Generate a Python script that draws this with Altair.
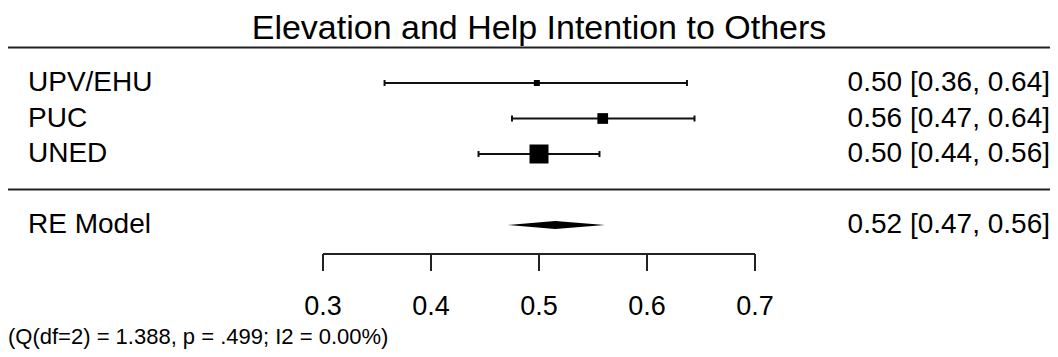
import altair as alt
import pandas as pd

# ---- data ----
studies = ["UPV/EHU", "PUC", "UNED"]
estimates = [0.498, 0.559, 0.500]
ci_low = [0.357, 0.475, 0.444]
ci_high = [0.637, 0.644, 0.556]
weights = [11.1, 30.4, 58.5]
est_labels = ["0.50 [0.36, 0.64]", "0.56 [0.47, 0.64]", "0.50 [0.44, 0.56]"]

re_name = "RE Model"
re_est, re_low, re_high = 0.515, 0.471, 0.561
re_label_text = "0.52 [0.47, 0.56]"

tick_values = [0.3, 0.4, 0.5, 0.6, 0.7]
tick_labels = ["0.3", "0.4", "0.5", "0.6", "0.7"]

title_text = "Elevation and Help Intention to Others"
footnote_text = "(Q(df=2) = 1.388, p = .499; I2 = 0.00%)"

# ---- layout ----
W, H = 1042, 341
FONT = "Liberation Sans"
INK = "#111111"
k = len(studies)
rows = [k + 2 - i for i in range(k)]      # 5,4,3
re_row = 1

x0 = 0.3 - 315 / 1080
xscale = alt.Scale(domain=[x0, x0 + W / 1080], nice=False, zero=False)
yscale = alt.Scale(domain=[-2.4929, 7.1127], nice=False, zero=False)
X = lambda f: alt.X(f, type="quantitative", scale=xscale, axis=None)
Y = lambda f: alt.Y(f, type="quantitative", scale=yscale, axis=None)

df = pd.DataFrame({"study": studies, "est": estimates, "lo": ci_low, "hi": ci_high,
                   "w": weights, "lab": est_labels, "row": rows})

ci = alt.Chart(df).mark_rule(color=INK, strokeWidth=2).encode(x=X("lo"), x2="hi", y=Y("row"))
cap_lo = alt.Chart(df).mark_rule(color=INK, strokeWidth=2, yOffset=-3, y2Offset=3).encode(
    x=X("lo"), y=Y("row"), y2="row")
cap_hi = alt.Chart(df).mark_rule(color=INK, strokeWidth=2, yOffset=-3, y2Offset=3).encode(
    x=X("hi"), y=Y("row"), y2="row")
sq = alt.Chart(df).mark_square(color="black", opacity=1, filled=True).encode(
    x=X("est"), y=Y("row"),
    size=alt.Size("w:Q", scale=alt.Scale(type="pow", exponent=2, domain=[min(weights), max(weights)],
                                          range=[36, 361], zero=False), legend=None))
left_txt = alt.Chart(df).mark_text(align="left", baseline="middle", font=FONT, fontSize=28, color="black").encode(
    x=alt.value(20), y=Y("row"), text="study:N")
right_txt = alt.Chart(df).mark_text(align="right", baseline="middle", font=FONT, fontSize=28, color="black").encode(
    x=alt.value(1042), y=Y("row"), text="lab:N")

# RE model diamond
h = 4 / 35.5
dia = pd.DataFrame({"x": [re_low, re_est, re_high],
                    "y1": [re_row, re_row + h, re_row],
                    "y2": [re_row, re_row - h, re_row]})
diamond = alt.Chart(dia).mark_area(color="black", orient="vertical", opacity=1).encode(
    x=X("x"), y=Y("y1"), y2="y2")
re_df = pd.DataFrame({"name": [re_name], "lab": [re_label_text], "row": [re_row]})
re_left = alt.Chart(re_df).mark_text(align="left", baseline="middle", font=FONT, fontSize=28, color="black").encode(
    x=alt.value(20), y=Y("row"), text="name:N")
re_right = alt.Chart(re_df).mark_text(align="right", baseline="middle", font=FONT, fontSize=28, color="black").encode(
    x=alt.value(1042), y=Y("row"), text="lab:N")

# horizontal separators
hl = pd.DataFrame({"row": [k + 3, 2]})
hlines = alt.Chart(hl).mark_rule(color="#222222", strokeWidth=2).encode(
    x=alt.value(0), x2=alt.value(W), y=Y("row"))

# custom axis
tk = pd.DataFrame({"v": tick_values, "lab": tick_labels})
axis_line = alt.Chart(pd.DataFrame({"a": [min(tick_values)], "b": [max(tick_values)]})).mark_rule(
    color="#222222", strokeWidth=2).encode(x=X("a"), x2="b", y=alt.value(246))
axis_ticks = alt.Chart(tk).mark_rule(color="#222222", strokeWidth=2).encode(
    x=X("v"), y=alt.value(246), y2=alt.value(263))
axis_labels = alt.Chart(tk).mark_text(align="center", baseline="alphabetic", font=FONT, fontSize=27,
                                      color="black").encode(x=X("v"), y=alt.value(307), text="lab:N")

title = alt.Chart(pd.DataFrame({"t": [title_text]})).mark_text(
    align="center", baseline="alphabetic", font=FONT, fontSize=34, color="black").encode(
    x=alt.value(531), y=alt.value(31), text="t:N")
foot = alt.Chart(pd.DataFrame({"t": [footnote_text]})).mark_text(
    align="left", baseline="alphabetic", font=FONT, fontSize=22, color="black").encode(
    x=alt.value(0), y=alt.value(336), text="t:N")

chart = alt.layer(hlines, ci, cap_lo, cap_hi, sq, left_txt, right_txt, diamond, re_left, re_right,
                  axis_line, axis_ticks, axis_labels, title, foot).properties(
    width=W, height=H, padding=0, autosize=alt.AutoSizeParams(type="none"),
    background="white").configure_view(stroke=None)

chart.save("out.html", embed_options={"renderer": "svg", "actions": False})
